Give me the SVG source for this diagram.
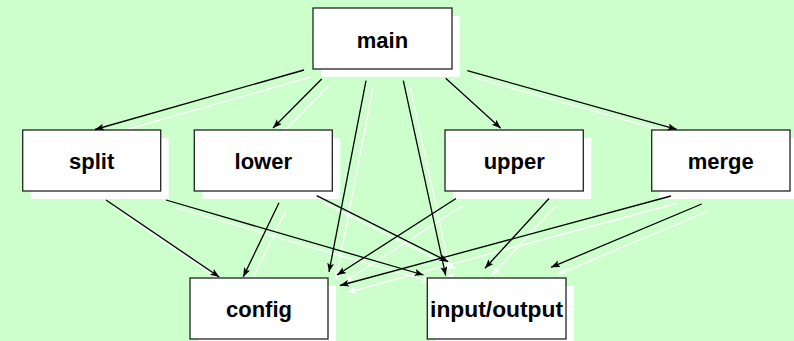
<svg xmlns="http://www.w3.org/2000/svg" width="794" height="341" viewBox="0 0 794 341">
  <defs>
    <style>
      .bg { fill: #ccffcc; }
      .edge { stroke: #000; stroke-width: 1.3; fill: none; marker-end: url(#arrow); }
      .edge-shadow { stroke: #fff; stroke-width: 1.3; fill: none; marker-end: url(#arrow-w); }
      .box { fill: #fff; stroke: #222; stroke-width: 1.3; }
      .box-shadow { fill: #fff; stroke: none; }
      .label { font-family: "Liberation Sans", Arial, sans-serif; font-size: 22px; font-weight: bold; fill: #000; text-anchor: middle; }
    </style>
    <marker id="arrow" markerUnits="userSpaceOnUse" markerWidth="10" markerHeight="8" refX="9" refY="3.5" orient="auto">
      <path d="M0,0 L9,3.5 L0,7 L2,3.5 z" fill="#000"/>
    </marker>
    <marker id="arrow-w" markerUnits="userSpaceOnUse" markerWidth="10" markerHeight="8" refX="9" refY="3.5" orient="auto">
      <path d="M0,0 L9,3.5 L0,7 L2,3.5 z" fill="#fff"/>
    </marker>
  </defs>

  <rect class="bg" x="0" y="0" width="794" height="341"/>

  <!-- white drop shadows of the connectors, offset by 7px -->
  <g id="connector-shadows" transform="translate(7,7)">
    <line class="edge-shadow" x1="304" y1="70" x2="95" y2="129.5"/>
    <line class="edge-shadow" x1="321.7" y1="79" x2="273" y2="128"/>
    <line class="edge-shadow" x1="366" y1="80.7" x2="329" y2="272"/>
    <line class="edge-shadow" x1="403.3" y1="80.7" x2="445.7" y2="275.5"/>
    <line class="edge-shadow" x1="445.7" y1="78.3" x2="500.7" y2="128.3"/>
    <line class="edge-shadow" x1="467.3" y1="70.7" x2="676.7" y2="129.3"/>
    <line class="edge-shadow" x1="106" y1="200" x2="219.3" y2="277"/>
    <line class="edge-shadow" x1="166" y1="200" x2="423.5" y2="275"/>
    <line class="edge-shadow" x1="279" y1="202.7" x2="243.3" y2="276.7"/>
    <line class="edge-shadow" x1="316.7" y1="195.7" x2="448.3" y2="261.7"/>
    <line class="edge-shadow" x1="456" y1="198.5" x2="337" y2="275"/>
    <line class="edge-shadow" x1="549" y1="198.5" x2="485" y2="268.3"/>
    <line class="edge-shadow" x1="671" y1="196" x2="340" y2="285.5"/>
    <line class="edge-shadow" x1="701.7" y1="204" x2="551" y2="267.3"/>
  </g>

  <!-- nodes -->
  <g id="main">
    <rect class="box-shadow" x="321" y="16" width="139" height="61"/>
    <rect class="box" x="313" y="8" width="139" height="61"/>
    <text class="label" x="382.5" y="47.5">main</text>
  </g>
  <g id="split">
    <rect class="box-shadow" x="30.7" y="138" width="138" height="61"/>
    <rect class="box" x="22.7" y="130" width="138" height="61"/>
    <text class="label" x="91.7" y="169">split</text>
  </g>
  <g id="lower">
    <rect class="box-shadow" x="202.3" y="138" width="138" height="61"/>
    <rect class="box" x="194.3" y="130" width="138" height="61"/>
    <text class="label" x="263.3" y="169">lower</text>
  </g>
  <g id="upper">
    <rect class="box-shadow" x="453" y="138" width="138.3" height="61"/>
    <rect class="box" x="445" y="130" width="138.3" height="61"/>
    <text class="label" x="514.2" y="169">upper</text>
  </g>
  <g id="merge">
    <rect class="box-shadow" x="659.7" y="138" width="138.3" height="61"/>
    <rect class="box" x="651.7" y="130" width="138.3" height="61"/>
    <text class="label" x="720.8" y="169">merge</text>
  </g>
  <g id="config">
    <rect class="box-shadow" x="198" y="286" width="138" height="61"/>
    <rect class="box" x="190" y="278" width="138" height="61"/>
    <text class="label" x="259" y="317">config</text>
  </g>
  <g id="input-output">
    <rect class="box-shadow" x="435.3" y="286" width="138.7" height="61"/>
    <rect class="box" x="427.3" y="278" width="138.7" height="61"/>
    <text class="label" x="496.6" y="317" textLength="133" lengthAdjust="spacingAndGlyphs">input/output</text>
  </g>

  <!-- connectors -->
  <g id="connectors">
    <line class="edge" x1="304" y1="70" x2="95" y2="129.5"/>
    <line class="edge" x1="321.7" y1="79" x2="273" y2="128"/>
    <line class="edge" x1="366" y1="80.7" x2="329" y2="272"/>
    <line class="edge" x1="403.3" y1="80.7" x2="445.7" y2="275.5"/>
    <line class="edge" x1="445.7" y1="78.3" x2="500.7" y2="128.3"/>
    <line class="edge" x1="467.3" y1="70.7" x2="676.7" y2="129.3"/>
    <line class="edge" x1="106" y1="200" x2="219.3" y2="277"/>
    <line class="edge" x1="166" y1="200" x2="423.5" y2="275"/>
    <line class="edge" x1="279" y1="202.7" x2="243.3" y2="276.7"/>
    <line class="edge" x1="316.7" y1="195.7" x2="448.3" y2="261.7"/>
    <line class="edge" x1="456" y1="198.5" x2="337" y2="275"/>
    <line class="edge" x1="549" y1="198.5" x2="485" y2="268.3"/>
    <line class="edge" x1="671" y1="196" x2="340" y2="285.5"/>
    <line class="edge" x1="701.7" y1="204" x2="551" y2="267.3"/>
  </g>
</svg>
